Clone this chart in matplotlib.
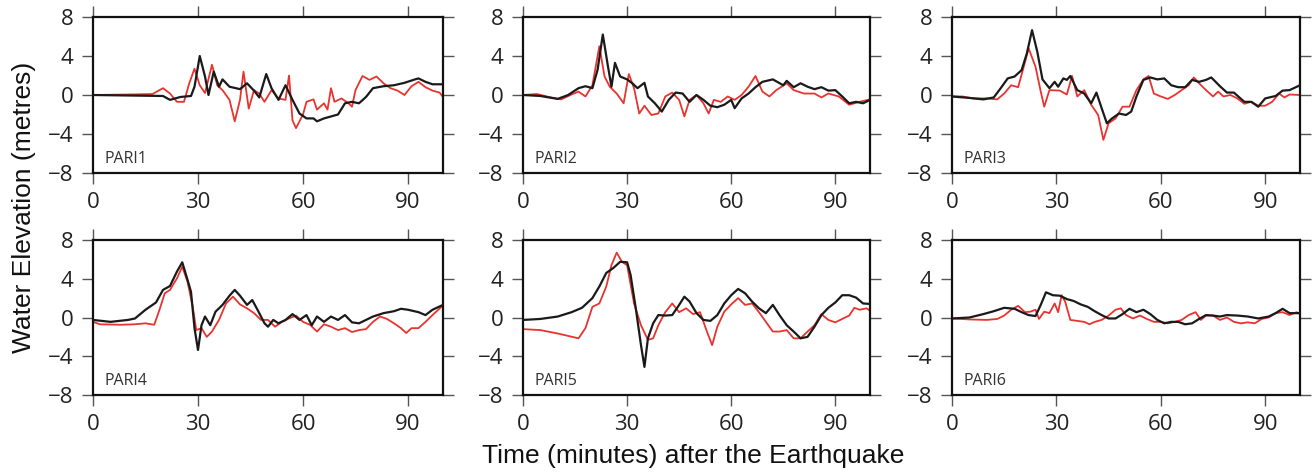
import numpy as np
import matplotlib.pyplot as plt

# time (min) / water elevation (m), black and red curves per station
pari1_black_t = [0, 10, 20, 22, 25, 28, 29, 30.5, 32, 33, 34.5, 36, 37, 39, 42, 44, 46, 47.5, 49.5, 51, 53, 55, 57, 59, 61, 63, 64, 66, 68, 70, 72, 74, 76, 78, 80, 83, 86, 89, 92, 93, 95, 97, 100]
pari1_black_v = [0, -0.05, -0.1, -0.5, -0.2, -0.1, 0.85, 4.0, 1.9, 0, 2.4, 0.85, 1.6, 0.85, 0.6, 1.2, 0.45, -0.25, 2.15, 0.7, -0.5, 1.0, -0.5, -1.9, -2.4, -2.4, -2.7, -2.4, -2.2, -2.0, -0.85, -0.7, -0.85, -0.2, 0.7, 0.9, 1.0, 1.25, 1.6, 1.7, 1.35, 1.1, 1.1]
pari1_red_t = [0, 10, 17, 20, 22, 24, 26, 27.5, 29, 30.5, 32, 34, 35.5, 37, 39, 40.5, 42, 43, 44.5, 46, 47.5, 49, 51, 53, 55, 56, 57, 58, 60, 61, 63, 64, 66, 67, 68, 69, 71, 73, 74, 75, 77, 79, 81, 83, 85, 87, 89, 91, 93, 95, 97, 99, 100]
pari1_red_v = [0, 0.05, 0.1, 0.7, 0.15, -0.7, -0.7, 1.2, 2.7, 1.0, 0.2, 3.1, 1.0, 0.5, -0.5, -2.7, -0.5, 2.4, -1.4, 0.5, 0.15, -0.7, 0.5, -0.35, -0.5, 2.0, -2.6, -3.4, -2.0, -0.7, -0.45, -1.5, -0.85, -1.5, 0.7, -0.7, -0.35, -0.85, -1.2, 0.5, 1.95, 1.55, 1.9, 1.2, 0.7, 0.45, 0, 0.9, 1.35, 0.8, 0.45, 0.25, -0.2]

pari2_black_t = [0, 5, 10, 13, 16, 18, 20, 21.5, 23, 24.5, 25.5, 26.5, 28, 30, 31.5, 33, 35, 36, 38, 40, 42, 44, 46, 48, 50, 52, 54, 56, 58, 60, 61, 63, 65, 67, 69, 72, 75, 76, 78, 80, 82, 84, 86, 88, 90, 92, 94, 96, 98, 100]
pari2_black_v = [0, -0.1, -0.4, 0, 0.7, 0.9, 0.7, 2.6, 6.2, 2.9, 0.85, 3.3, 1.9, 1.6, 1.2, 0.7, 1.25, -0.15, -0.85, -1.7, -0.5, 0.25, 0.15, -0.7, 0, -0.5, -1.1, -1.25, -1.0, -0.5, -1.35, -0.35, 0.15, 0.8, 1.35, 1.6, 1.0, 1.45, 0.8, 1.2, 0.85, 0.6, 0.8, 0.45, 0.5, -0.15, -0.85, -0.7, -0.85, -0.5]
pari2_red_t = [0, 4, 8, 11, 14, 16, 18, 20, 22, 23.5, 25, 27, 29, 30.5, 32, 33.5, 35, 37, 39, 41, 43, 45, 46.5, 48, 50, 52, 53.5, 55, 57, 59, 61, 63, 65, 67, 69, 71, 73, 76, 78, 81, 84, 86, 88, 91, 94, 97, 100]
pari2_red_v = [0, 0.1, -0.25, -0.45, 0.05, 0.35, -0.15, 1.0, 5.0, 1.9, 0.85, 0.15, -0.85, 2.15, 0.7, -1.9, -1.1, -2.05, -1.9, -0.15, 0.25, -0.5, -2.2, -0.5, 0, -0.85, -1.9, -0.5, -0.7, -0.15, -0.5, 0, 0.85, 1.95, 0.35, -0.15, 0.5, 1.2, 0.5, 0.15, 0.15, -0.25, 0.15, -0.15, -1.0, -0.7, -0.45]

pari3_black_t = [0, 5, 9, 12, 14, 16, 18, 20, 21.5, 23, 24.5, 26, 28, 29.5, 30.5, 32, 33, 34, 36, 38, 40, 41.5, 43, 44.5, 46, 48, 50, 51.5, 53, 55, 57, 59, 61, 63, 65, 67, 69, 71, 73, 74.5, 77, 79, 81, 84, 86, 88, 90, 93, 95, 97, 100]
pari3_black_v = [-0.15, -0.3, -0.45, -0.25, 0.7, 1.7, 1.9, 2.55, 4.25, 6.65, 4.45, 1.6, 0.7, 1.35, 0.85, 1.7, 1.55, 1.95, 0.5, 0.15, -0.85, 0.25, -1.35, -2.9, -2.4, -1.9, -2.05, -1.7, -0.15, 1.55, 1.8, 1.6, 1.7, 1.0, 0.8, 0.8, 1.55, 1.35, 1.55, 1.8, 0.9, 0.25, 0.25, -0.7, -0.7, -1.2, -0.35, -0.1, 0.45, 0.5, 1.0]
pari3_red_t = [0, 3, 6, 10, 13, 15, 17, 19, 21, 22, 24, 25.5, 26.5, 28, 31, 33, 34.5, 36, 38, 40, 42, 43.5, 45, 47, 49, 51, 53, 55, 56.5, 58, 60, 62, 64, 66, 68, 69.5, 71, 73, 75, 76.5, 78, 80, 82, 84, 86, 88, 90, 92, 94, 95.5, 97, 100]
pari3_red_v = [-0.15, -0.15, -0.35, -0.35, -0.45, 0.15, 1.0, 0.8, 3.4, 4.8, 2.9, 0.35, -1.2, 0.5, 0.45, 0.05, 1.95, -0.15, 0.5, -1.0, -2.05, -4.6, -2.9, -2.4, -1.2, -1.2, 0.5, 1.6, 1.95, 0.15, -0.15, -0.4, 0, 0.5, 1.0, 1.8, 1.2, 0.5, -0.15, 0.35, -0.15, 0, -0.35, -0.9, -0.7, -1.1, -1.1, -0.7, 0.15, -0.25, 0.05, 0]

pari4_black_t = [0, 5, 10, 12, 15, 18, 20, 22, 24, 25.5, 27, 28, 29, 30, 31, 32, 33.5, 35, 37, 39, 40.5, 42, 44, 45.5, 47, 49, 50, 51.5, 53, 55, 57, 59, 61, 62.5, 64, 66, 68, 70, 72, 74, 76, 78, 80, 83, 86, 88, 90, 93, 95, 97, 100]
pari4_black_v = [-0.25, -0.45, -0.25, -0.1, 0.8, 1.55, 2.85, 3.25, 4.75, 5.7, 3.9, 2.65, -1.1, -3.35, -0.8, 0.1, -0.8, 0.6, 1.3, 2.25, 2.85, 2.25, 1.3, 1.8, 0.8, -0.6, -0.95, -0.25, -0.6, -0.25, 0.35, -0.25, 0.25, -0.8, 0.1, -0.45, 0.1, -0.25, 0.25, -0.5, -0.6, -0.25, 0.1, 0.45, 0.65, 0.9, 0.8, 0.55, 0.25, 0.8, 1.3]
pari4_red_t = [0, 2, 8, 12, 15, 17.5, 19, 20.5, 22, 24, 25.5, 27, 28.5, 29.5, 31, 32.5, 34, 36, 38, 40, 42, 44, 46, 48, 50, 52, 54, 56, 58, 60, 62, 64, 66, 68, 70, 72, 74, 76, 78, 80, 82, 84, 86, 88, 89.5, 91, 93, 95, 97, 100]
pari4_red_v = [-0.45, -0.7, -0.75, -0.7, -0.6, -0.75, 0.8, 2.5, 2.85, 4.05, 5.25, 3.7, 1.1, -1.3, -1.1, -2.0, -1.45, -0.25, 1.45, 2.15, 1.35, 0.95, 0.45, -0.25, -0.25, -0.95, -0.45, -0.1, 0.2, -0.45, -0.75, -1.45, -0.7, -0.95, -1.3, -1.1, -1.5, -1.3, -1.2, -0.45, 0.1, -0.15, -0.6, -1.1, -1.6, -1.1, -1.1, -0.45, 0.25, 1.25]

pari5_black_t = [0, 5, 10, 14, 17, 20, 22, 24, 26, 28, 30, 31, 32.5, 34, 35, 36, 37.5, 39, 41, 43, 45, 46.5, 48, 50, 52, 54, 56, 58, 60, 62, 64, 66, 68, 70, 72, 74, 76, 78, 80, 82, 84, 86, 88, 90, 92, 94, 96, 98, 100]
pari5_black_v = [-0.25, -0.15, 0.1, 0.55, 1.0, 2.0, 3.2, 4.6, 5.1, 5.75, 5.7, 4.4, 0.95, -2.85, -5.1, -2.15, -0.6, 0.25, 0.2, 0.25, 1.3, 2.15, 1.65, 0.45, -0.25, -0.35, 0.25, 1.45, 2.3, 2.95, 2.5, 1.65, 0.95, 0.45, 1.3, 0.2, -0.8, -1.45, -2.15, -2.0, -0.95, 0.25, 1.0, 1.55, 2.3, 2.3, 2.05, 1.45, 1.4]
pari5_red_t = [0, 5, 10, 13, 16, 18, 20, 22, 24, 25.5, 27, 28.5, 30, 32, 34, 36, 37.5, 39, 41, 43, 45, 47, 49, 51, 53, 54.5, 56, 58, 60, 62, 64, 66, 68, 70, 72, 74, 76, 78, 80, 82, 84, 86, 88, 90, 92, 94, 95.5, 97, 99, 100]
pari5_red_v = [-1.2, -1.3, -1.65, -1.9, -2.15, -1.1, 1.1, 1.45, 3.2, 5.4, 6.7, 5.75, 5.4, 1.45, -0.8, -2.3, -2.15, -0.8, 0.55, 1.45, 0.55, 0.95, 0.35, 0.55, -1.45, -2.85, -0.95, 0.6, 1.35, 2.0, 1.3, 1.45, 0.55, -0.45, -1.45, -1.45, -1.3, -2.15, -2.15, -1.45, -0.8, 0.35, -0.25, -0.5, -0.15, 0.2, 1.0, 0.8, 0.95, 0.7]

pari6_black_t = [0, 5, 9, 12, 15, 18, 20, 22, 24, 25.5, 27, 29, 31, 33, 35, 37, 39, 41, 43, 45, 47, 49, 51, 53, 55, 57, 59, 61, 63, 65, 67, 69, 71, 73, 75, 77, 79, 82, 85, 88, 91, 93, 95, 97, 100]
pari6_black_v = [-0.1, 0, 0.35, 0.65, 1.0, 0.9, 0.55, 0.25, 0.15, 1.3, 2.6, 2.3, 2.25, 1.9, 1.7, 1.35, 1.1, 0.65, 0.25, -0.1, -0.1, 0.35, 0.9, 0.55, 0.8, 0.35, -0.25, -0.6, -0.45, -0.45, -0.7, -0.6, -0.15, 0.25, 0.2, 0.1, 0.25, 0.2, 0.1, -0.1, 0.1, 0.45, 0.9, 0.45, 0.45]
pari6_red_t = [0, 5, 10, 13, 15, 17, 19, 21, 22.5, 24, 25, 26.5, 28, 29.5, 30.5, 31.5, 32.5, 34, 36, 38, 39.5, 41, 43, 45, 47, 48.5, 50, 52, 54, 56, 58, 60, 62, 64, 66, 68, 70, 71.5, 73, 75, 77, 79, 81, 83, 85, 87, 89, 91, 93, 95, 97, 99, 100]
pari6_red_v = [-0.1, -0.2, -0.25, -0.15, 0.2, 0.8, 1.2, 0.55, 0.6, 0.8, -0.15, 0.6, 0.45, 1.45, 0.55, 2.3, 1.65, -0.25, -0.35, -0.45, -0.7, -0.45, -0.25, 0.2, 0.8, 0.95, 0.25, -0.1, 0.2, -0.15, -0.45, -0.45, -0.6, -0.45, -0.25, 0.25, 0.55, -0.25, 0.2, 0.2, -0.25, 0, -0.45, -0.6, -0.5, -0.6, -0.15, 0, 0.45, 0.55, 0.25, 0.55, 0.35]

stations = ["PARI1", "PARI2", "PARI3", "PARI4", "PARI5", "PARI6"]
black_curves = [(pari1_black_t, pari1_black_v), (pari2_black_t, pari2_black_v), (pari3_black_t, pari3_black_v),
                (pari4_black_t, pari4_black_v), (pari5_black_t, pari5_black_v), (pari6_black_t, pari6_black_v)]
red_curves = [(pari1_red_t, pari1_red_v), (pari2_red_t, pari2_red_v), (pari3_red_t, pari3_red_v),
              (pari4_red_t, pari4_red_v), (pari5_red_t, pari5_red_v), (pari6_red_t, pari6_red_v)]
xticks = [0, 30, 60, 90]
yticks = [-8, -4, 0, 4, 8]

W, H = 1316, 472
fig = plt.figure(figsize=(W / 100, H / 100), dpi=100)

# axes boxes in pixels: left, right, top, bottom
cols = [(93, 443), (523, 870), (952, 1300)]
rows = [(17, 173), (240, 395)]

for i, name in enumerate(stations):
    r, c = divmod(i, 3)
    x0, x1 = cols[c]
    y0, y1 = rows[r]
    ax = fig.add_axes([x0 / W, 1 - y1 / H, (x1 - x0) / W, (y1 - y0) / H])
    tb, vb = black_curves[i]
    tr, vr = red_curves[i]
    ax.plot(tr, vr, color="#e8332f", lw=1.3, zorder=2)
    ax.plot(tb, vb, color="#1a1a1a", lw=1.6, zorder=3)
    ax.set_xlim(0, 100)
    ax.set_ylim(-8, 8)
    ax.set_xticks(xticks)
    ax.set_yticks(yticks)
    ax.tick_params(direction="out", length=8, width=1.0, color="#555555",
                   top=True, right=True, labelsize=16, pad=6)
    for lab in ax.get_xticklabels() + ax.get_yticklabels():
        lab.set_fontfamily("Open Sans")
        lab.set_color("#222222")
    for sp in ax.spines.values():
        sp.set_linewidth(1.6)
        sp.set_color("#111111")
    ax.text(3.2, -6.6, name, fontsize=11.5, family="Open Sans", color="#333333",
            va="center", ha="left")

fig.text(0.018, 0.561, "Water Elevation (metres)", rotation=90, fontsize=19,
         family="Liberation Sans", ha="center", va="center", color="#111111")
fig.text(0.527, 0.019, "Time (minutes) after the Earthquake", fontsize=19,
         family="Liberation Sans", ha="center", va="baseline", color="#111111")

fig.savefig("out.png", dpi=100)
